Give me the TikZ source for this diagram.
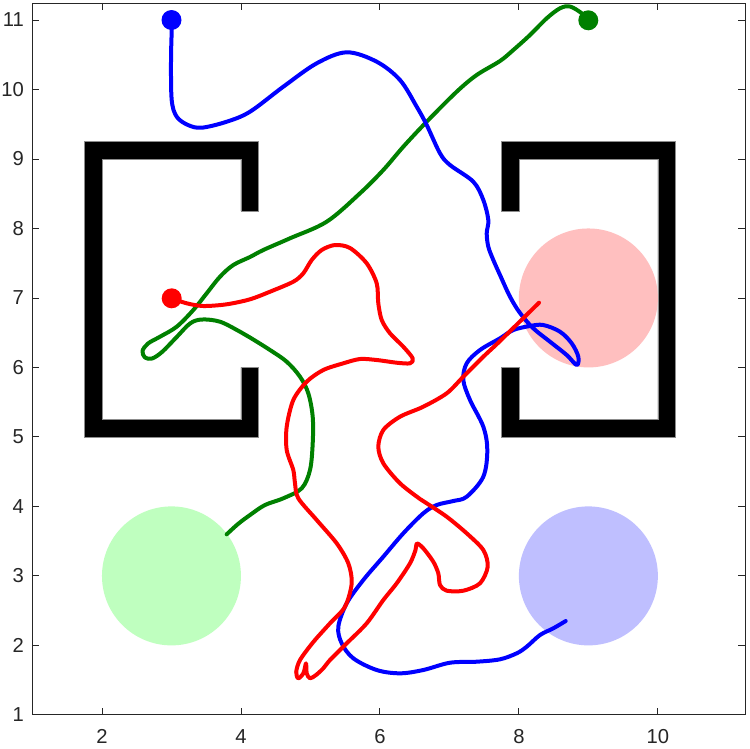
\documentclass[tikz,border=0pt]{standalone}
\usepackage{fontspec}
\setmainfont{Liberation Sans}
\definecolor{axgray}{RGB}{38,38,38}
\definecolor{cgreen}{RGB}{191,255,191}
\definecolor{cred}{RGB}{255,191,191}
\definecolor{cblue}{RGB}{191,191,255}
\definecolor{tgreen}{RGB}{0,128,0}
\definecolor{tblue}{RGB}{0,0,255}
\definecolor{tred}{RGB}{255,0,0}
\tikzset{
  traj/.style={line width=0.08cm, line cap=round, line join=round},
  wall/.style={fill=black, draw=black!45, line width=0.3pt},
  startdot/.style={radius=0.2cm},
  tickline/.style={draw=axgray, line width=0.5pt},
  ticklab/.style={inner sep=0pt, text=axgray, font=\fontsize{11.5}{13}\selectfont}
}
\begin{document}
\begin{tikzpicture}[x=0.02cm,y=-0.02cm]
\useasboundingbox (0,0) rectangle (750,748);
\fill[white] (0,0) rectangle (750,748);

\begin{scope}[shift={(-0.74cm,-15.69cm)}, x=1.39cm, y=1.39cm]
  % walls
  \path[wall] (1.75,5) -- (4.25,5) -- (4.25,6) -- (4,6) -- (4,5.25) -- (2,5.25)
     -- (2,9) -- (4,9) -- (4,8.25) -- (4.25,8.25) -- (4.25,9.25) -- (1.75,9.25) -- cycle;
  \path[wall] (10.25,5) -- (7.75,5) -- (7.75,6) -- (8,6) -- (8,5.25) -- (10,5.25)
     -- (10,9) -- (8,9) -- (8,8.25) -- (7.75,8.25) -- (7.75,9.25) -- (10.25,9.25) -- cycle;
  % goal regions
  \fill[cgreen] (3,3) circle[radius=1.39cm];
  \fill[cred] (9,7) circle[radius=1.39cm];
  \fill[cblue] (9,3) circle[radius=1.39cm];
\end{scope}

% green trajectory
\draw[traj, tgreen] plot[smooth, tension=0.55] coordinates {
(588.3,20.7) (581.7,13.3) (570,6.5) (560,8.3) (546.7,18.3) (530,35) (513.3,50) (500,61)
(476.7,75) (456.7,91.7) (426.7,121.7) (403.3,146.7) (383.3,170) (360,193.3) (326.7,221.7)
(290,238.3) (263.3,250) (250,257) (233.3,265) (220,276.7) (206.7,293.3) (193.3,310)
(176.7,326.7) (160,336.7) (148,343.5) (142.5,351) (145,357.5) (152,358.5) (162,352)
(176.7,337) (190,323.5) (201.7,319.5) (220,321.7) (240,331.7) (250,337.5) (270,350)
(286.7,361.7) (300,376.7) (308.3,393.3) (312.7,416.7) (312.7,443.3) (310,470)
(301.7,488.3) (283.3,498.3) (265,505) (250,515) (238,524) (226.7,534.3)};
\fill[tgreen] (588.3,20.3) circle[startdot];

% blue trajectory
\draw[traj, tblue] plot[smooth, tension=0.55] coordinates {
(171.5,20) (171.7,30) (171,60) (171.7,100) (176.7,116.7) (188,125) (201.7,127.7)
(226.7,121.7) (250,111.7) (283.3,86.7) (316.7,63.3) (346.7,52.3) (376.7,61.7) (400,80)
(416.7,106.7) (426.7,125) (440,153.3) (450,165) (473.3,181.7) (483.3,200) (488.3,220)
(486.7,233.3) (488.3,246.7) (493.3,260) (500,275) (510,296.7) (520,313) (533.3,328.3)
(550,341.7) (566.7,355) (576.7,365) (578.3,356.7) (571.7,343.3) (560,331.7) (543.3,325)
(530,326) (513.3,330) (500,338.3) (480,350) (466.7,363.3) (463.3,380) (470,400)
(483.3,426.7) (487.3,450) (483.3,476.7) (466.7,496.7) (453.3,501) (436.7,505)
(423.3,513.3) (403.3,533.3) (383.3,556.7) (363.3,580) (346.7,603.3) (338.3,626.7)
(341.7,643.3) (353.3,658.3) (376.7,670) (400,673.3) (423.3,670) (450,662.7)
(476.7,661.7) (500,659.3) (516.7,653.3) (526.7,646.7) (540,635) (553.3,628.3) (565.7,621)};
\fill[tblue] (171.5,20) circle[startdot];

% red trajectory
\draw[traj, tred] plot[smooth, tension=0.5] coordinates {
(171.7,298.3) (186.7,303.3) (203.3,306) (226.7,304.3) (250,299.3) (270,291.7)
(293.3,281.7) (303.3,273.3) (311.7,260) (321.7,250) (335,245) (350,248) (366.7,263.3)
(376.7,283.3) (378.3,303.3) (381.7,320) (390,333.3) (403.3,346.7) (412.7,358.3)
(410,363.3) (396.7,362.7) (376.7,360) (360,359) (343.3,363.3) (323.3,370) (306.7,381.7)
(293.3,400) (286.7,426.7) (286.7,450) (293.3,470) (295,483.3) (298.3,498.3)
(316.7,520) (336.7,543.3) (348.3,563.3) (351.7,583.3) (345,606.7) (330,623.3)
(313.3,642) (300,660) (296.2,672) (298.3,678.3) (303.5,673) (306,663.3) (306.7,673.3)
(310,678.3) (316,675) (323.3,668.3) (330,660) (346.7,643.3) (366.7,623.3) (383.3,600)
(396.7,583.3) (410,563.3) (415.5,550) (417,543.5) (423.3,548.3) (433.3,561.7)
(438.3,573.3) (440,585) (446.7,590.7) (463.3,590.7) (480,583.3) (487.7,566.7)
(483.3,550) (466.7,533.3) (446.7,516.7) (426.7,503.3) (420,499) (400,483.3)
(383.3,463.3) (378.3,446.7) (383.3,430) (400,416.7) (423.3,406.7) (446.7,393.3)
(463.3,376.7) (483.3,356.7) (500,341) (539,302.7)};
\fill[tred] (171.7,298.3) circle[startdot];

\begin{scope}[shift={(-0.74cm,-15.69cm)}, x=1.39cm, y=1.39cm]
  % axes box
  \draw[tickline] (1,1) rectangle (11.26,11.245);
  \foreach \xx in {2,4,6,8,10} {
    \draw[tickline] (\xx,1) -- (\xx,1.1);
    \draw[tickline] (\xx,11.245) -- (\xx,11.145);
    \node[ticklab] (xl\xx) at (\xx,0.683) {\xx};
  }
  \foreach \yy in {1,...,11} {
    \draw[tickline] (1,\yy) -- (1.1,\yy);
    \draw[tickline] (11.26,\yy) -- (11.16,\yy);
    \node[ticklab, anchor=east] (yl\yy) at (0.88,\yy) {\yy};
  }
\end{scope}
\end{tikzpicture}
\end{document}
